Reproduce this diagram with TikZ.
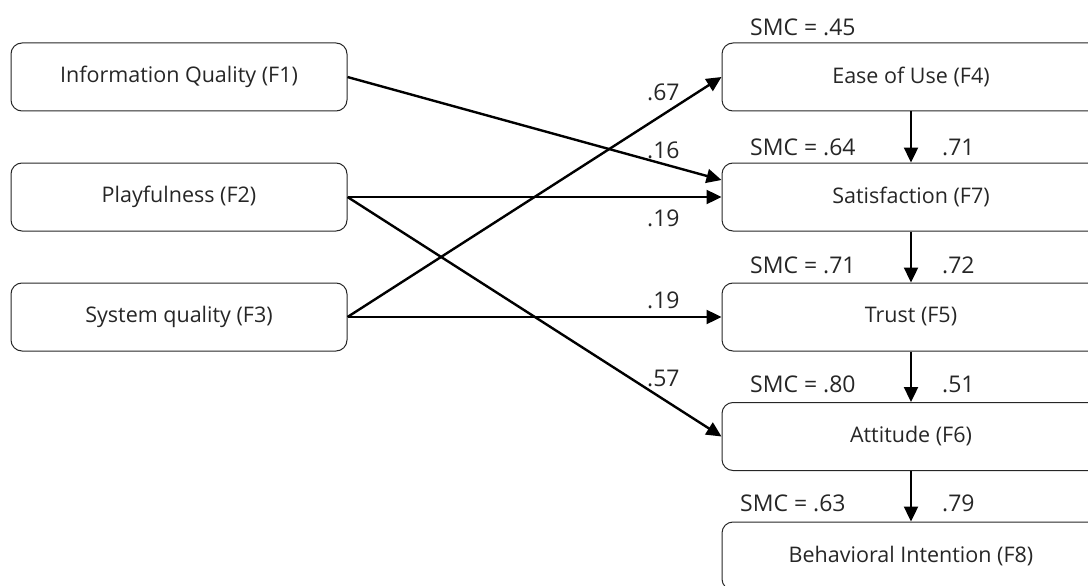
\documentclass[tikz,border=0pt]{standalone}
\usepackage{fontspec}
\setmainfont{Open Sans}
\usetikzlibrary{arrows.meta}
\begin{document}
\begin{tikzpicture}[x=1pt,y=-1pt,
  box/.style={draw=black!85, line width=1pt, rounded corners=11pt, minimum height=68pt, inner sep=0pt, text=black!85, font=\fontsize{21.5}{26}\selectfont},
  lbox/.style={box, minimum width=336pt},
  rbox/.style={box, minimum width=378pt},
  lab/.style={anchor=west, inner sep=0pt, text=black!85, font=\fontsize{23}{27}\selectfont},
  arr/.style={line width=2.4pt, -{Triangle[length=15pt,width=14pt]}}
]
\useasboundingbox (0,0) rectangle (1088,586);
\node[lbox] (F1) at (179,77) {Information Quality (F1)};
\node[lbox] (F2) at (179,197) {Playfulness (F2)};
\node[lbox] (F3) at (179,317) {System quality (F3)};
\node[rbox] (F4) at (911,77) {Ease of Use (F4)};
\node[rbox] (F7) at (911,197) {Satisfaction (F7)};
\node[rbox] (F5) at (911,317) {Trust (F5)};
\node[rbox] (F6) at (911,436.5) {Attitude (F6)};
\node[rbox] (F8) at (911,556) {Behavioral Intention (F8)};
\draw[arr] (F1.east) -- ([yshift=17pt]F7.west);
\draw[arr] (F2.east) -- (F7.west);
\draw[arr] (F2.east) -- (F6.west);
\draw[arr] (F3.east) -- (F4.west);
\draw[arr] (F3.east) -- (F5.west);
\draw[arr] (F4) -- (F7);
\draw[arr] (F7) -- (F5);
\draw[arr] (F5) -- (F6);
\draw[arr] (F6) -- (F8);
\node[lab] (s45) at (750,27) {SMC = .45};
\node[lab] (s64) at (750,147) {SMC = .64};
\node[lab] (s71) at (750,265) {SMC = .71};
\node[lab] (s80) at (750,384) {SMC = .80};
\node[lab] (s63) at (740,503) {SMC = .63};
\node[lab] (c71) at (942,147) {.71};
\node[lab] (c72) at (942,265) {.72};
\node[lab] (c51) at (942,384) {.51};
\node[lab] (c79) at (942,503) {.79};
\node[lab] (c67) at (647,92) {.67};
\node[lab] (c16) at (647,150) {.16};
\node[lab] (c19a) at (647,218) {.19};
\node[lab] (c19b) at (647,300) {.19};
\node[lab] (c57) at (647,378) {.57};
\end{tikzpicture}
\end{document}
